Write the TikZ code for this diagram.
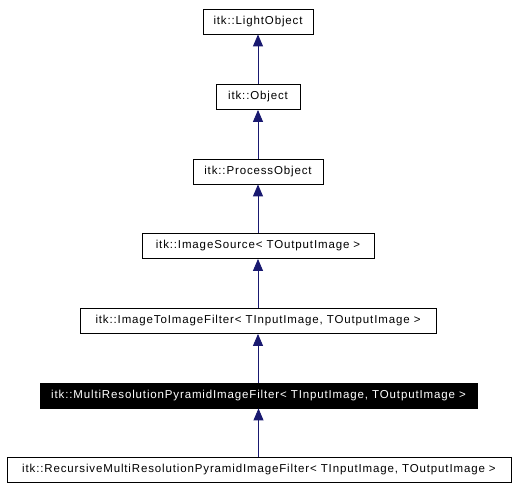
\documentclass[tikz,border=0pt]{standalone}
\usepackage{fontspec}
\newfontfamily\dfont[LetterSpace=7.5]{Liberation Sans}
\usetikzlibrary{arrows.meta}
\definecolor{edgeblue}{HTML}{191970}
\tikzset{
  cls/.style={draw=black, line width=0.8pt, fill=white, inner sep=0pt, minimum height=25pt,
    font=\dfont\fontsize{11.5}{13}\selectfont, text=black},
  cur/.style={cls, fill=black, text=white},
  inh/.style={draw=edgeblue, line width=0.9pt, -{Triangle[width=10pt,length=12pt,fill=edgeblue]}}
}
\begin{document}
\begin{tikzpicture}[x=1pt,y=-1pt]
\useasboundingbox (0,0) rectangle (516,490);
\node[cls, minimum width=110pt] (lo) at (258,21.5) {itk::LightObject};
\node[cls, minimum width=84pt] (ob) at (258,97) {itk::Object};
\node[cls, minimum width=130pt] (po) at (258,171.5) {itk::ProcessObject};
\node[cls, minimum width=232pt] (is) at (258,246) {itk::ImageSource< TOutputImage >};
\node[cls, minimum width=356pt] (ii) at (258,321) {itk::ImageToImageFilter< TInputImage, TOutputImage >};
\node[cur, minimum width=437pt] (mr) at (258.5,395.5) {itk::MultiResolutionPyramidImageFilter< TInputImage, TOutputImage >};
\node[cls, minimum width=504pt] (rm) at (259,470) {itk::RecursiveMultiResolutionPyramidImageFilter< TInputImage, TOutputImage >};
\draw[inh] (ob.north -| lo.south) -- (lo.south);
\draw[inh] (po.north -| ob.south) -- (ob.south);
\draw[inh] (is.north) -- (po.south);
\draw[inh] (ii.north) -- (is.south);
\draw[inh] (mr.north -| ii.south) -- (ii.south);
\draw[inh] (rm.north -| mr.south) -- (mr.south);
\end{tikzpicture}
\end{document}
